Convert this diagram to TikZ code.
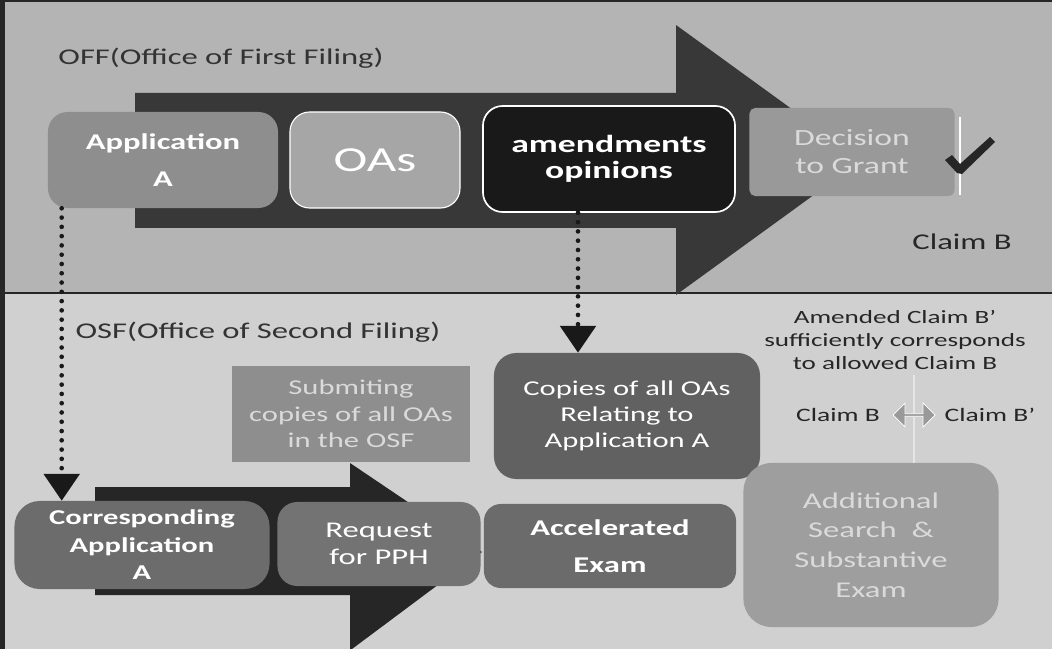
\documentclass[tikz,border=0pt]{standalone}
\usepackage{fontspec}
\setmainfont{Carlito}[FakeStretch=1.45]
\usetikzlibrary{arrows.meta,shapes.arrows}

\definecolor{upperbg}{HTML}{B4B4B4}
\definecolor{lowerbg}{HTML}{D0D0D0}
\definecolor{arrowdark}{HTML}{383838}
\definecolor{boxmid}{HTML}{8E8E8E}
\definecolor{boxlight}{HTML}{A6A6A6}
\definecolor{boxdark}{HTML}{6C6C6C}
\definecolor{paletext}{HTML}{DADADA}

\newcommand{\txtsz}[2]{\fontsize{#1}{#2}\selectfont}

\tikzset{
  flowbox/.style={rounded corners=14pt, inner sep=0pt, align=center, text=white},
  dotline/.style={draw=black!90, line width=3.3pt, line cap=round,
    dash pattern=on 0pt off 6.6pt, -{Triangle[width=25pt,length=19pt]}},
  faint/.style={draw=white!80!gray, line width=1.5pt},
}

\begin{document}
\begin{tikzpicture}[x=0.025cm, y=-0.025cm]
    \useasboundingbox (0,0) rectangle (1052,649);
    % panels
    \fill[upperbg] (0,0) rectangle (1052,293);
    \fill[lowerbg] (0,293) rectangle (1052,649);
    \draw[line width=2pt, black!85] (0,293) -- (1052,293);
    \draw[line width=1.5pt, black!85] (0,1) -- (1052,1);
    \draw[line width=4pt, black!85] (2,0) -- (2,649);
    \node[font=\txtsz{16}{19}, text=black!80] (off) at (221,58) {OFF(Office of First Filing)};
    \node[font=\txtsz{16}{19}, text=black!80] (osf) at (258,332) {OSF(Office of Second Filing)};
    % big arrows
    \fill[arrowdark] (135,93) -- (676,93) -- (676,25) -- (862,160) -- (676,295)
        -- (676,228) -- (135,228) -- cycle;
    \fill[black!85] (95,487) -- (350,487) -- (350,463) -- (482,552) -- (352,649)
        -- (350,649) -- (350,595) -- (95,595) -- cycle;
    % OFF row
    \node[flowbox, fill=boxmid, minimum width=5.75cm, minimum height=2.4cm,
        font={\bfseries\txtsz{16}{26}}] (app) at (163,160) {Application\\A};
    \node[flowbox, fill=boxlight, draw=white!80, line width=0.8pt, minimum width=4.25cm,
        minimum height=2.4cm, font=\txtsz{25}{28}] (oas) at (375,160) {OAs};
    \node[flowbox, fill=black!90, draw=white!85, line width=1.2pt, minimum width=6.3cm,
        minimum height=2.65cm, font={\bfseries\txtsz{17.5}{18.5}}] (amend) at (609,159)
        {amendments\\opinions};
    \node[flowbox, rounded corners=4pt, fill=black!40, text=paletext, minimum width=5.125cm,
        minimum height=2.2cm, font=\txtsz{16.5}{20}] (grant) at (852,152) {Decision\\to Grant};
    \draw[white, line width=1.5pt] (960,117) -- (960,195);
    \fill[black!85] (945,160) -- (952,155) -- (960,164) -- (990,137) -- (995,142)
        -- (962,174) -- (957,173) -- cycle;
    \node[font=\txtsz{16}{19}, text=black!85] (claimb) at (962,242) {Claim B};
    % OSF row
    \node[flowbox, rounded corners=0pt, fill=boxmid, text=paletext, minimum width=5.95cm,
        minimum height=2.4cm, font=\txtsz{15}{19}] (submit) at (351,414)
        {Submiting\\copies of all OAs\\in the OSF};
    \node[flowbox, rounded corners=16pt, fill=black!62, minimum width=6.65cm,
        minimum height=3.15cm, font=\txtsz{15}{18.5}] (copies) at (627,416)
        {Copies of all OAs\\Relating to\\Application A};
    \node[flowbox, rounded corners=18pt, fill=boxdark, minimum width=6.375cm,
        minimum height=2.2cm, font={\bfseries\txtsz{15}{19.5}}] (corr) at (142,545)
        {Corresponding\\Application\\A};
    \node[flowbox, fill=black!55, minimum width=5.075cm, minimum height=2.1cm,
        font=\txtsz{16}{19}] (req) at (379,544) {Request\\for PPH};
    \node[flowbox, rounded corners=12pt, fill=black!58, minimum width=6.3cm,
        minimum height=2.1cm, font={\bfseries\txtsz{16}{26}}] (accel) at (610,546)
        {Accelerated\\Exam};
    \node[flowbox, rounded corners=20pt, fill=black!38, text=paletext, minimum width=6.375cm,
        minimum height=4.1cm, font=\txtsz{16}{21}] (addl) at (871,545)
        {Additional\\Search \ \&\\Substantive\\Exam};
    % claim comparison
    \node[align=center, text=black!85, font=\txtsz{13.3}{16.5}] (amended) at (895,340)
        {Amended Claim B’\\sufficiently corresponds\\to allowed Claim B};
    \node[text=black!85, font=\txtsz{13.5}{16}] (cb) at (838,415) {Claim B};
    \node[double arrow, fill=black!40, draw=white!70, line width=0.5pt, inner sep=0pt,
        minimum height=1.05cm, minimum width=0.6cm, double arrow head extend=2pt] (darrow)
        at (914,415) {};
    \node[text=black!85, font=\txtsz{13.5}{16}] (cbp) at (990,415) {Claim B’};
    \draw[faint] (darrow.north) -- (darrow.north |- amended.south);
    \draw[faint] (darrow.south) -- (darrow.south |- addl.north);
    % dotted links
    \draw[dotline] ([xshift=0.35cm]app.south west) -- ([xshift=0.35cm]app.south west |- corr.north);
    \draw[dotline] ([xshift=-0.775cm]amend.south) -- ([xshift=-0.775cm]amend.south |- copies.north);
\end{tikzpicture}
\end{document}
